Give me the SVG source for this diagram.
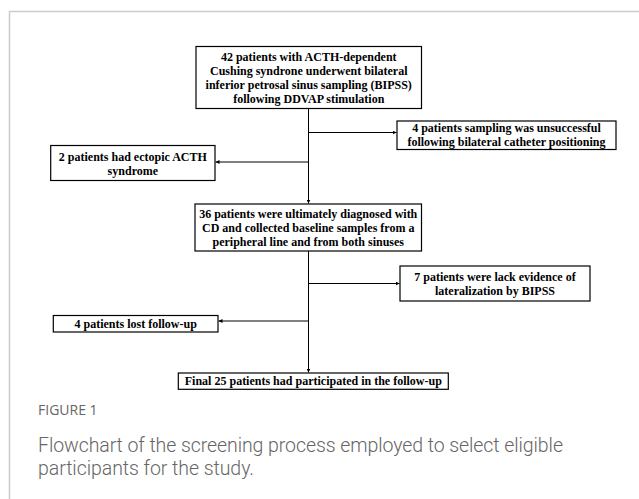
<svg xmlns="http://www.w3.org/2000/svg" width="639" height="499" viewBox="0 0 639 499">
<style>
.box{fill:#fff;stroke:#000;stroke-width:1.2}
.t{font-family:"Liberation Serif","Times New Roman",serif;font-weight:bold;font-size:12px;fill:#000;text-anchor:middle}
.c{fill:none;stroke:#000;stroke-width:1}
.cap1{font-family:"Open Sans","Noto Sans",sans-serif;font-size:14px;fill:#666}
.cap2{font-family:Roboto,"Open Sans",sans-serif;font-size:19.5px;fill:#666;font-weight:300}
</style>
<defs>
<marker id="ah" viewBox="0 0 6 6" refX="6" refY="3" markerWidth="4" markerHeight="4" orient="auto"><path d="M0,0 L6,3 L0,6 z" fill="#000"/></marker>
</defs>
<rect width="639" height="499" fill="#fff"/>
<path d="M9.5,499 V11.5 H639" fill="none" stroke="#cccccc" stroke-width="1.5"/>
<g id="connectors">
<line class="c" x1="308.5" y1="108.5" x2="308.5" y2="203.5" marker-end="url(#ah)"/>
<line class="c" x1="308.5" y1="132.5" x2="396.5" y2="132.5" marker-end="url(#ah)"/>
<line class="c" x1="308.5" y1="162" x2="215.5" y2="162" marker-end="url(#ah)"/>
<line class="c" x1="308.5" y1="251" x2="308.5" y2="372.5" marker-end="url(#ah)"/>
<line class="c" x1="308.5" y1="283.5" x2="399.5" y2="283.5" marker-end="url(#ah)"/>
<line class="c" x1="308.5" y1="321" x2="218.5" y2="321" marker-end="url(#ah)"/>
</g>
<g id="n1"><rect class="box" x="196" y="46.5" width="225.5" height="62"/>
<text class="t" x="308.75" y="60.5">42 patients with ACTH-dependent</text>
<text class="t" x="308.75" y="74.7">Cushing syndrone underwent bilateral</text>
<text class="t" x="308.75" y="88.9">inferior petrosal sinus sampling (BIPSS)</text>
<text class="t" x="308.75" y="103.1">following DDVAP stimulation</text></g>
<g id="n2"><rect class="box" x="397" y="121" width="219" height="28.5"/>
<text class="t" x="506.5" y="132">4 patients sampling was unsuccessful</text>
<text class="t" x="506.5" y="146">following bilateral catheter positioning</text></g>
<g id="n3"><rect class="box" x="50.7" y="145.5" width="164.3" height="35"/>
<text class="t" x="132.85" y="161">2 patients had ectopic ACTH</text>
<text class="t" x="132.85" y="175">syndrome</text></g>
<g id="n4"><rect class="box" x="195" y="204" width="226.5" height="47"/>
<text class="t" x="308.25" y="217.5">36 patients were ultimately diagnosed with</text>
<text class="t" x="308.25" y="231.5">CD and collected baseline samples from a</text>
<text class="t" x="308.25" y="245.5">peripheral line and from both sinuses</text></g>
<g id="n5"><rect class="box" x="400" y="266" width="190" height="35"/>
<text class="t" x="495" y="280.5">7 patients  were lack evidence of</text>
<text class="t" x="495" y="294.5">lateralization by BIPSS</text></g>
<g id="n6"><rect class="box" x="53.3" y="315.5" width="164.7" height="16.5"/>
<text class="t" x="135.65" y="327.5">4 patients lost follow-up</text></g>
<g id="n7"><rect class="box" x="178.3" y="373" width="270" height="16.3"/>
<text class="t" x="313.3" y="385">Final 25 patients had participated in the follow-up</text></g>
<text class="cap1" x="38" y="415">FIGURE 1</text>
<text class="cap2" x="38" y="451.5" textLength="525" lengthAdjust="spacing">Flowchart of the screening process employed to select eligible</text>
<text class="cap2" x="38" y="475" textLength="216" lengthAdjust="spacing">participants for the study.</text>
</svg>
